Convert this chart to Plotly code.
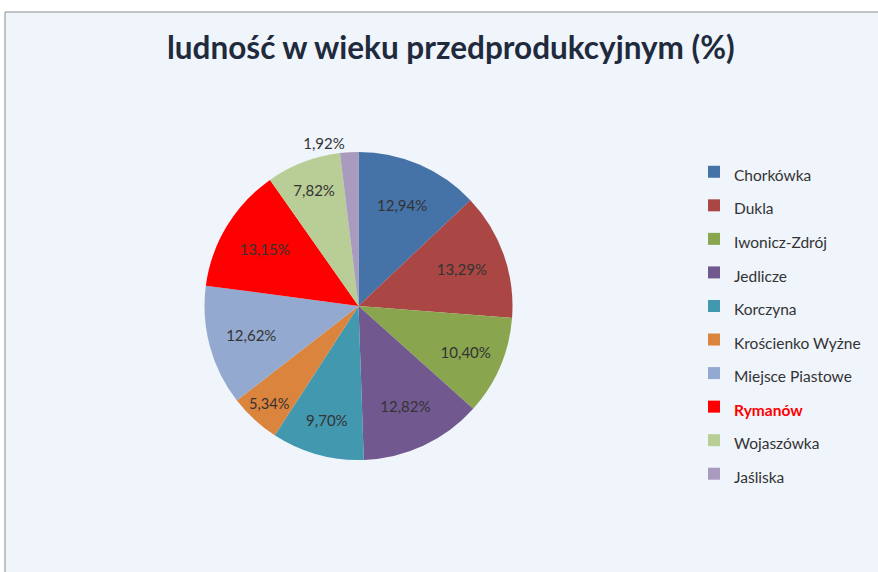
import plotly.graph_objects as go

categories = ["Chorkówka", "Dukla", "Iwonicz-Zdrój", "Jedlicze", "Korczyna",
              "Krościenko Wyżne", "Miejsce Piastowe", "Rymanów", "Wojaszówka", "Jaśliska"]
values = [12.94, 13.29, 10.40, 12.82, 9.70, 5.34, 12.62, 13.15, 7.82, 1.92]
colors = ["#4572A7", "#AA4643", "#89A54E", "#71588F", "#4198AF",
          "#DB843D", "#93A9CF", "#FF0000", "#B9CD96", "#A99BBD"]
title_text = "ludność w wieku przedprodukcyjnym (%)"

W, H = 878, 572
FONT = "Lato, 'Open Sans', sans-serif"

pct_text = [f"{v:.2f}%".replace(".", ",") for v in values]

legend_labels = []
for c in categories:
    if c == "Rymanów":
        legend_labels.append(f"<span style='font-size:15.5px;color:#FF0000'><b>{c}</b></span>")
    else:
        legend_labels.append(f"<span style='font-size:15.5px'>{c}</span>")

textpos = ["inside"] * (len(values) - 1) + ["outside"]

fig = go.Figure(go.Pie(
    labels=legend_labels,
    values=values,
    text=pct_text,
    textinfo="text",
    textposition=textpos,
    insidetextorientation="horizontal",
    textfont=dict(family=FONT, size=15, color="#333333"),
    marker=dict(colors=colors, line=dict(width=0)),
    sort=False,
    direction="clockwise",
    rotation=0,
    hoverinfo="skip",
    domain=dict(x=[77 / W, 640 / W], y=[1 - 460 / H, 1 - 152 / H]),
))

shapes = [
    dict(type="rect", xref="paper", yref="paper", x0=0, x1=1, y0=1 - 12 / H, y1=1,
         fillcolor="white", line=dict(width=0), layer="below"),
    dict(type="rect", xref="paper", yref="paper", x0=0, x1=5 / W, y0=0, y1=1,
         fillcolor="white", line=dict(width=0), layer="below"),
    dict(type="line", xref="paper", yref="paper", x0=5 / W, x1=1, y0=1 - 12 / H, y1=1 - 12 / H,
         line=dict(color="#8A8A8A", width=1)),
    dict(type="line", xref="paper", yref="paper", x0=5 / W, x1=5 / W, y0=0, y1=1 - 12 / H,
         line=dict(color="#8A8A8A", width=1)),
]

fig.update_layout(
    width=W, height=H,
    margin=dict(l=0, r=0, t=0, b=0, autoexpand=False),
    paper_bgcolor="#F0F4FB",
    plot_bgcolor="#F0F4FB",
    shapes=shapes,
    showlegend=True,
    legend=dict(
        xref="container", yref="container",
        x=694 / W, y=1 - 150 / H, xanchor="left", yanchor="top",
        font=dict(family=FONT, size=23.5, color="#333333"),
        bgcolor="rgba(0,0,0,0)",
        traceorder="normal",
        maxheight=420,
    ),
    annotations=[dict(
        text=f"<b>{title_text}</b>", xref="paper", yref="paper",
        x=451 / W, y=1 - 47 / H, xanchor="center", yanchor="middle",
        showarrow=False, font=dict(family=FONT, size=31.5, color="#1F2B3D"),
    )],
)

fig.write_html("out.html", config={"displayModeBar": False},
               post_script="document.body.style.margin='0px';")
